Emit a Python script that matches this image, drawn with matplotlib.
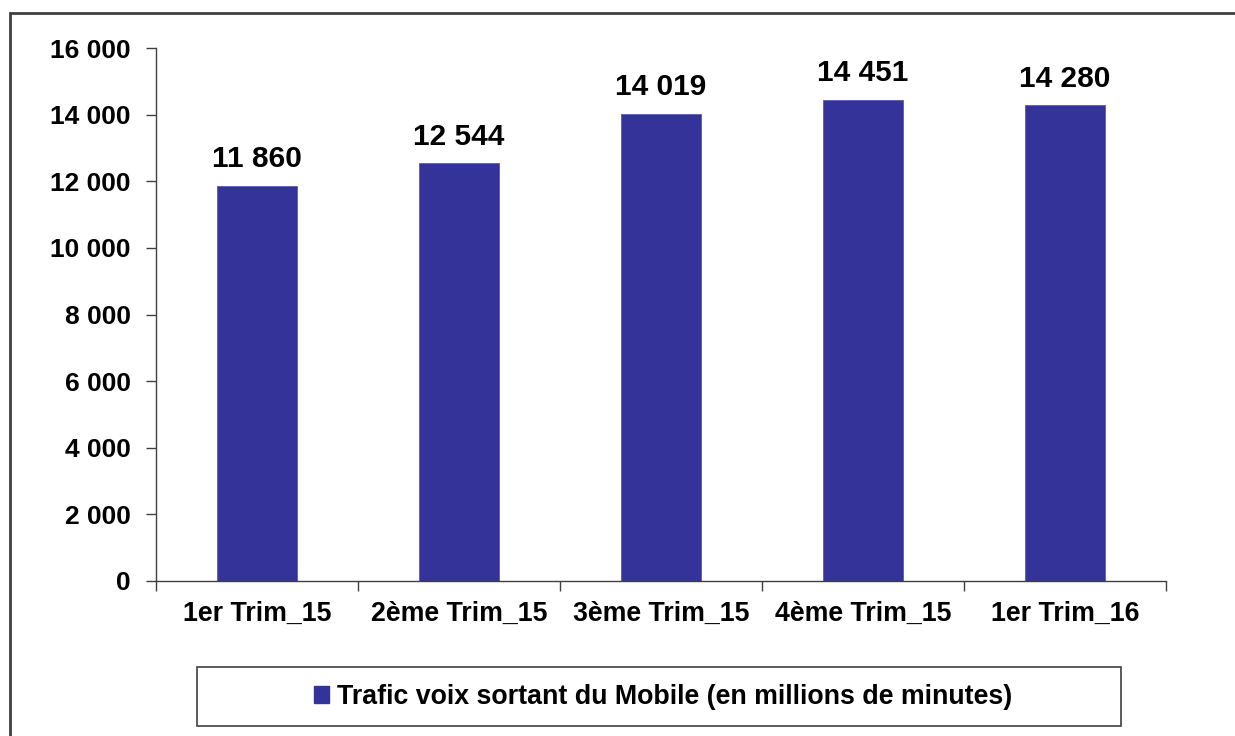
import matplotlib.pyplot as plt
from matplotlib.patches import Rectangle, Patch
import numpy as np

plt.rcParams["font.family"] = ["Liberation Sans", "DejaVu Sans"]
plt.rcParams["font.weight"] = "bold"

# data
quarters = ["1er Trim_15", "2ème Trim_15", "3ème Trim_15", "4ème Trim_15", "1er Trim_16"]
traffic = [11860, 12544, 14019, 14451, 14280]
series_name = "Trafic voix sortant du Mobile (en millions de minutes)"
y_ticks = [0, 2000, 4000, 6000, 8000, 10000, 12000, 14000, 16000]

bar_color = "#333399"


def fmt(v):
    return f"{v:,}".replace(",", " ")


fig = plt.figure(figsize=(12.35, 7.36), dpi=100)
ax = fig.add_axes([156 / 1235, 1 - 581 / 736, 1010 / 1235, 533 / 736])

x = np.arange(len(quarters))
bars = ax.bar(x, traffic, width=0.4, color=bar_color, edgecolor="#5a5ab0", linewidth=0.6)

for xi, v in zip(x, traffic):
    ax.annotate(fmt(v), (xi, v), xytext=(0, 9), textcoords="offset points",
                ha="center", va="bottom", fontsize=21.5, fontweight="bold")

ax.set_xlim(-0.5, len(quarters) - 0.5)
ax.set_ylim(0, 16000)
ax.set_yticks(y_ticks)
ax.set_yticklabels([fmt(t) for t in y_ticks])
ax.set_xticks(x)
ax.set_xticklabels(quarters)
ax.set_xticks(np.arange(-0.5, len(quarters)), minor=True)

ax.tick_params(axis="y", direction="out", length=7, width=1, pad=11,
               labelsize=19, color="#404040")
ax.tick_params(axis="x", which="major", length=0, pad=14, labelsize=19.3)
ax.tick_params(axis="x", which="minor", direction="out", length=7, width=1, color="#404040")

for s in ["top", "right"]:
    ax.spines[s].set_visible(False)
for s in ["left", "bottom"]:
    ax.spines[s].set_color("#404040")
    ax.spines[s].set_linewidth(1)

# outer chart border
fig.patches.append(Rectangle((10 / 1235, -0.1), 1.2, 1 - 13 / 736 + 0.1,
                             transform=fig.transFigure, fill=False,
                             edgecolor="#404040", linewidth=2))

# legend box
fig.patches.append(Rectangle((197 / 1235, 1 - 726 / 736), 924 / 1235, 59 / 736,
                             transform=fig.transFigure, fill=False,
                             edgecolor="#404040", linewidth=1.2))
fig.legend(handles=[Patch(color=bar_color, label=series_name)],
           loc="center", bbox_to_anchor=(663 / 1235, 1 - 697 / 736),
           frameon=False, handlelength=0.55, handleheight=0.55,
           handletextpad=0.3, prop={"weight": "bold", "size": 19.3})

fig.savefig("out.png", dpi=100)
